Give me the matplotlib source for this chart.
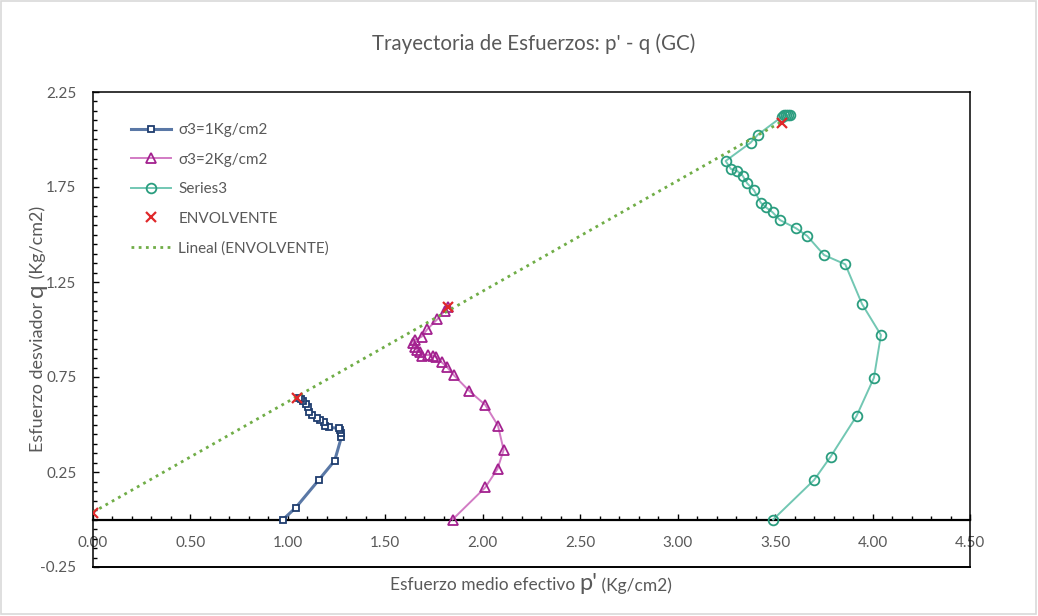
import numpy as np
import matplotlib
matplotlib.use("Agg")
import matplotlib.pyplot as plt
from matplotlib.ticker import MultipleLocator, FormatStrFormatter
from matplotlib.patches import Rectangle
from matplotlib.transforms import Bbox

plt.rcParams['font.family'] = ['Lato', 'DejaVu Sans']

# --- data -----------------------------------------------------------------
p1 = [0.975, 1.04, 1.16, 1.24, 1.275, 1.27, 1.265, 1.26, 1.21, 1.19, 1.185,
      1.165, 1.15, 1.125, 1.11, 1.105, 1.095, 1.08, 1.065, 1.055]
q1 = [0.0, 0.062, 0.21, 0.31, 0.435, 0.455, 0.47, 0.48, 0.485, 0.49, 0.515,
      0.525, 0.535, 0.55, 0.565, 0.59, 0.61, 0.625, 0.635, 0.64]

p2 = [1.845, 2.013, 2.076, 2.107, 2.078, 2.013, 1.931, 1.852, 1.815, 1.789,
      1.760, 1.743, 1.720, 1.686, 1.678, 1.661, 1.652, 1.643, 1.652, 1.686,
      1.715, 1.767, 1.806, 1.823]
q2 = [0.0, 0.169, 0.267, 0.366, 0.494, 0.603, 0.676, 0.759, 0.804, 0.827,
      0.857, 0.862, 0.866, 0.862, 0.883, 0.892, 0.909, 0.927, 0.945, 0.962,
      1.001, 1.054, 1.099, 1.117]

p3 = [3.49, 3.70, 3.785, 3.918, 4.007, 4.043, 3.946, 3.86, 3.751, 3.665,
      3.607, 3.525, 3.487, 3.453, 3.426, 3.391, 3.357, 3.333, 3.306, 3.273,
      3.246, 3.374, 3.41, 3.535, 3.545, 3.555, 3.565, 3.575]
q3 = [0.0, 0.208, 0.331, 0.545, 0.746, 0.971, 1.134, 1.343, 1.392, 1.492,
      1.533, 1.576, 1.617, 1.643, 1.668, 1.734, 1.769, 1.81, 1.834, 1.845,
      1.887, 1.983, 2.024, 2.12, 2.128, 2.13, 2.13, 2.128]

p_env = [0.0, 1.047, 1.822, 3.537]
q_env = [0.035, 0.639, 1.118, 2.088]

labels = ["σ3=1Kg/cm2", "σ3=2Kg/cm2", "Series3", "ENVOLVENTE", "Lineal (ENVOLVENTE)"]
title = "Trayectoria de Esfuerzos: p' - q (GC)"

# --- figure ---------------------------------------------------------------
W, H = 1038, 616
fig = plt.figure(figsize=(W / 100, H / 100), dpi=100)
TXT = "#595959"


def fx(px):
    return px / W


def fy(py):
    return 1 - py / H


ax = fig.add_axes([fx(93), fy(567), fx(970) - fx(93), fy(92) - fy(567)])

ax.plot(p1, q1, color="#5a78a6", lw=2.2, marker="s", ms=5, mfc="white",
        mec="#1f3d6e", mew=1.3, label=labels[0], zorder=4)
ax.plot(p2, q2, color="#d27bc4", lw=1.4, marker="^", ms=6.5, mfc="none",
        mec="#a3218f", mew=1.3, label=labels[1], zorder=4)
ax.plot(p3, q3, color="#72c7b3", lw=1.4, marker="o", ms=7, mfc="none",
        mec="#2a9d7f", mew=1.3, label=labels[2], zorder=4)
ax.plot(p_env, q_env, ls="none", marker="x", ms=6.5, mew=1.6,
        color="#e0282a", label=labels[3], zorder=6)

# linear trend line of the envelope points
k, b = np.polyfit(p_env, q_env, 1)
xs = np.array([min(p_env), max(p_env)])
ax.plot(xs, k * xs + b, ls=(0, (1, 1.6)), lw=2.0, color="#70ad47",
        label=labels[4], zorder=5)

ax.set_xlim(0, 4.5)
ax.set_ylim(-0.25, 2.25)
ax.xaxis.set_major_locator(MultipleLocator(0.5))
ax.xaxis.set_minor_locator(MultipleLocator(0.1))
ax.set_yticks(np.arange(-0.25, 2.26, 0.5))
ax.yaxis.set_minor_locator(MultipleLocator(0.05))
ax.xaxis.set_major_formatter(FormatStrFormatter("%.2f"))
ax.yaxis.set_major_formatter(FormatStrFormatter("%.2f"))

ax.spines["bottom"].set_position(("data", 0))
ax.spines["bottom"].set_linewidth(1.6)
for s in ("left", "top", "right"):
    ax.spines[s].set_linewidth(1.1)
ax.axhline(-0.25, color="black", lw=1.4, clip_on=False, zorder=1)

ax.tick_params(axis="both", which="both", direction="in", colors="black",
               labelcolor=TXT, labelsize=11)
ax.tick_params(axis="both", which="major", length=4, width=1)
ax.tick_params(axis="both", which="minor", length=3, width=1)
ax.tick_params(axis="x", pad=12)
ax.tick_params(axis="y", pad=12)

leg = ax.legend(loc="upper left", bbox_to_anchor=(fx(131), fy(123)),
                bbox_transform=fig.transFigure, frameon=False, fontsize=11,
                handlelength=2.6, handletextpad=0.5, labelspacing=1.02,
                borderpad=0, borderaxespad=0)
for t in leg.get_texts():
    t.set_color(TXT)

fig.text(fx(534), fy(44), title, ha="center", va="center", fontsize=14.8,
         color=TXT)

# axis titles made of pieces with the variable letter drawn larger
fig.canvas.draw()
renderer = fig.canvas.get_renderer()


def compose(pieces, cx, cy, rotated):
    items = []
    for txt, size in pieces:
        t = fig.text(0, 0, txt, fontsize=size, color=TXT, ha="left",
                     va="baseline", rotation=90 if rotated else 0,
                     rotation_mode="anchor")
        bb = t.get_window_extent(renderer)
        items.append((t, bb.height if rotated else bb.width))
    total = sum(L for _, L in items)
    if rotated:
        pos = (H - cy) - total / 2
        for t, L in items:
            t.set_position((fx(cx), pos / H))
            pos += L
    else:
        pos = cx - total / 2
        for t, L in items:
            t.set_position((pos / W, fy(cy)))
            pos += L
    # recentre the whole group on the requested point
    fig.canvas.draw()
    box = Bbox.union([t.get_window_extent(renderer) for t, _ in items])
    dx = cx - (box.x0 + box.x1) / 2
    dy = (H - cy) - (box.y0 + box.y1) / 2
    for t, _ in items:
        x0, y0 = t.get_position()
        t.set_position((x0 + dx / W, y0 + dy / H))


compose([("Esfuerzo medio efectivo ", 12.5), ("p'", 17), (" (Kg/cm2)", 12.5)],
        531, 584, rotated=False)
compose([("Esfuerzo desviador ", 13), ("q", 17.5), (" (Kg/cm2)", 13)],
        36, 329, rotated=True)

# chart border
fig.patches.append(Rectangle((fx(1), fy(614)), fx(1035), fy(1) - fy(614),
                             transform=fig.transFigure, fill=False,
                             edgecolor="#d9d9d9", lw=1.2))

fig.savefig("out.png", dpi=100)
